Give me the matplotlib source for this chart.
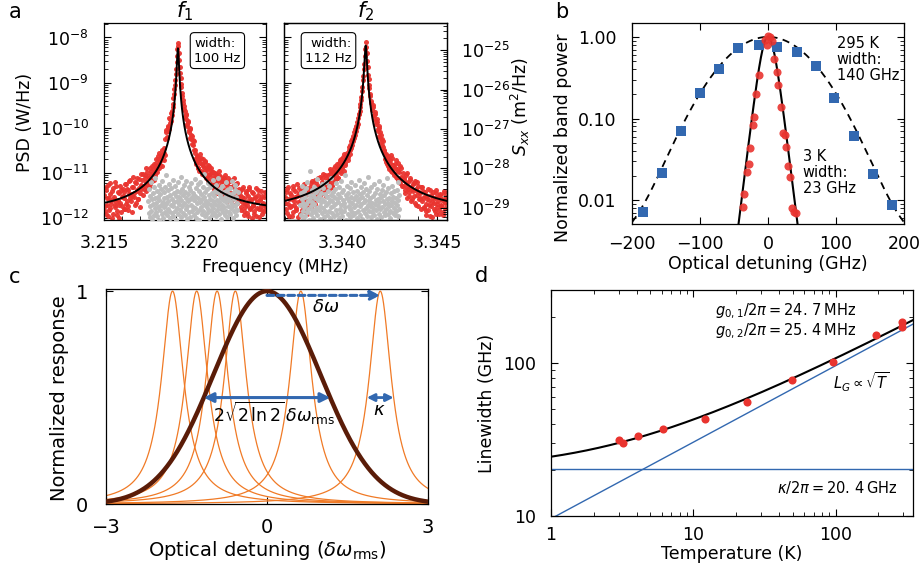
import numpy as np
import matplotlib
matplotlib.use("Agg")
import matplotlib.pyplot as plt
from matplotlib.ticker import (MultipleLocator, FormatStrFormatter, LogLocator,
                               NullFormatter, FixedLocator, FuncFormatter)

plt.rcParams["font.family"] = ["DejaVu Sans"]
plt.rcParams["mathtext.fontset"] = "dejavusans"
plt.rcParams["font.size"] = 12.5
plt.rcParams["axes.linewidth"] = 0.9

# ---------------------------------------------------------------- data
# (a) mechanical mode spectra: log10 PSD samples on uniform frequency grids
f1_center = 3.21910          # MHz
f1_width_hz = 100
f1_peak = 5.75e-9            # W/Hz
f1_floor = 1.33e-12
f1_red_start, f1_red_step = 3.21500, 0.00005
f1_red_log = [
    -11.48, -11.85, -11.31, -11.70, -11.95, -11.55, -11.22, -11.78, -11.63, -11.40,
    -11.90, -11.52, -11.71, -11.28, -11.83, -11.60, -11.45, -11.99, -11.66, -11.37,
    -11.74, -11.50,
    -11.42, -11.80, -11.25, -11.61, -11.38, -11.72, -11.18, -11.55, -11.47, -11.86,
    -11.30, -11.52, -11.21, -11.66, -11.40, -11.12, -11.58, -11.33, -11.75, -11.27,
    -11.15, -11.48, -11.28, -11.05, -11.40, -11.20, -10.98, -11.33, -11.12, -11.25,
    -10.95, -11.18,
    -10.92, -11.15, -10.85, -11.05, -10.78, -10.98, -10.70, -10.90, -10.82, -10.62,
    -10.85, -10.58, -10.72, -10.55,
    -10.25, -10.10, -10.20, -9.98, -10.02, -9.80, -9.85, -9.62,
    -9.55, -9.35, -9.15, -8.95, -8.70, -8.40,
    -8.13,
    -8.35, -8.65, -8.90, -9.10, -9.30, -9.45,
    -9.58, -9.75, -9.70, -9.92, -9.85, -10.05, -10.00, -10.22, -10.15, -10.35,
    -10.28, -10.48,
    -10.55, -10.75, -10.62, -10.88, -10.70, -10.95, -10.78, -10.66, -11.02, -10.85,
    -10.96, -10.74, -11.10, -10.90, -11.18, -10.82, -11.05, -10.93, -11.25, -10.98,
    -11.08, -11.32, -11.00, -11.22, -11.45, -11.12, -11.38, -11.05, -11.28, -11.50,
    -11.18, -11.40, -11.10, -11.55, -11.25, -11.35, -11.62, -11.20, -11.44, -11.30,
    -11.58, -11.15, -11.48, -11.70, -11.36, -11.52, -11.24, -11.66, -11.42, -11.60,
    -11.48, -11.82, -11.35, -11.66, -11.92, -11.55, -11.75, -11.40, -11.88, -11.62,
    -11.30, -11.78, -11.58, -12.00, -11.70, -11.45, -11.85, -11.52, -11.95, -11.64,
    -11.38, -11.80, -11.60, -11.72, -11.90, -11.50, -11.68, -11.84, -11.42, -11.76,
]
f1_red2_start = 3.215025
f1_red2_log = [
    -11.72, -11.38, -11.90, -11.55, -11.26, -11.81, -11.47, -11.68, -12.00, -11.33,
    -11.58, -11.76, -11.20, -11.64, -11.93, -11.42, -11.70, -11.29, -11.87, -11.53,
    -11.36, -11.79,
    -11.56, -11.24, -11.69, -11.35, -11.82, -11.46, -11.15, -11.62, -11.30, -11.51,
    -11.08, -11.44, -11.70, -11.22, -11.37, -11.58, -11.14, -11.45, -11.02, -11.36,
    -11.28, -11.02, -11.36, -11.12, -10.90, -11.24, -11.06, -11.30, -10.88, -11.10,
    -11.02, -10.85,
    -11.02, -10.80, -10.96, -10.70, -10.88, -10.62, -10.80, -10.55, -10.74, -10.66,
    -10.48, -10.70, -10.45, -10.60,
    -10.05, -10.22, -9.95, -10.08, -9.78, -9.90, -9.68, -9.72,
    -9.48, -9.25, -9.05, -8.80, -8.55, -8.25,
    -8.18, -8.50, -8.78, -9.02, -9.22, -9.38,
    -9.52, -9.62, -9.80, -9.72, -9.95, -9.88, -10.10, -10.02, -10.25, -10.18,
    -10.38, -10.30,
    -10.68, -10.50, -10.80, -10.64, -10.90, -10.72, -10.58, -10.95, -10.80, -10.68,
    -11.05, -10.86, -10.76, -11.00, -10.92, -11.12, -10.84, -11.02, -10.90, -11.15,
    -11.22, -10.98, -11.35, -11.10, -11.02, -11.28, -11.15, -10.95, -11.40, -11.20,
    -11.08, -11.32, -11.48, -11.15, -11.05, -11.42, -11.25, -11.12, -11.52, -11.30,
    -11.18, -11.45, -11.60, -11.28, -11.10, -11.38, -11.55, -11.22, -11.48, -11.35,
    -11.62, -11.40, -11.75, -11.52, -11.30, -11.85, -11.66, -11.45, -11.70, -11.95,
    -11.50, -11.36, -11.80, -11.60, -11.42, -11.72, -11.90, -11.55, -11.33, -11.78,
    -11.64, -11.48, -11.98, -11.58, -11.40, -11.82, -11.67, -11.52, -11.74, -11.45,
]
f1_bg_start, f1_bg_step = 3.21745, 0.000025
f1_bg_log = [
    -11.62, -11.88, -11.35, -11.97, -11.50, -11.73, -11.21, -11.84, -11.58, -12.02,
    -11.44, -11.69, -11.92, -11.30, -11.78, -11.55, -11.12, -11.86, -11.66, -11.40,
    -11.95, -11.53, -11.76, -11.27, -11.60, -12.04, -11.47, -11.81, -11.36, -11.70,
    -11.90, -11.18, -11.64, -11.99, -11.42, -11.75, -11.56, -11.32, -11.87, -11.68,
    -11.05, -11.52, -11.93, -11.38, -11.79, -11.61, -11.24, -11.83, -11.48, -12.00,
    -11.71, -11.33, -11.89, -11.57, -11.15, -11.74, -11.96, -11.45, -11.65, -11.28,
    -11.85, -11.51, -12.03, -11.39, -11.77, -11.62, -11.20, -11.91, -11.54, -11.69,
    -11.43, -11.82, -11.08, -11.59, -11.98, -11.35, -11.72, -11.49, -11.88, -11.26,
    -11.66, -11.94, -11.41, -11.80, -11.55, -11.17, -11.73, -12.01, -11.46, -11.63,
    -11.31, -11.86, -11.58, -11.97, -11.37, -11.70, -11.22, -11.84, -11.52, -11.76,
    -11.44, -11.92, -11.60, -11.13, -11.78, -11.50, -11.99, -11.34, -11.67, -11.87,
    -11.25, -11.56, -11.81, -11.40, -12.04, -11.64, -11.19, -11.75, -11.47, -11.90,
    -11.58, -11.30, -11.83, -11.69, -11.02, -11.53, -11.95, -11.42, -11.74, -11.61,
    -11.89, -11.36, -11.66, -11.23, -11.79, -11.48, -12.00, -11.57, -11.32, -11.85,
    -11.71, -11.45, -11.93, -11.62, -11.16, -11.77, -11.51, -11.88, -11.39, -11.68,
    -11.96, -11.27, -11.59, -11.82, -11.43, -11.73, -11.10, -11.64, -11.91, -11.49,
    -11.35, -11.80, -11.55, -12.02, -11.70, -11.29, -11.86, -11.60, -11.41, -11.76,
    -11.94, -11.52, -11.21, -11.83, -11.65, -11.38, -11.97, -11.57, -11.72, -11.46,
    -11.87, -11.33, -11.63, -11.90, -11.50, -11.78, -11.18, -11.69, -11.44, -11.99,
    -11.58, -11.84, -11.37, -11.74, -11.26, -11.92, -11.54, -11.66, -11.81, -11.42,
]

f2_center = 3.34125
f2_width_hz = 112
f2_peak = 6.6e-9
f2_floor = 1.28e-12
f2_red_start, f2_red_step = 3.33700, 0.00005
f2_red_log = [
    -11.52, -11.80, -11.35, -11.68, -11.95, -11.45, -11.72, -11.58, -11.28, -11.86,
    -11.62, -11.40, -11.77, -11.50, -11.98, -11.33, -11.66, -11.48, -11.82, -11.56,
    -11.25, -11.70, -11.44, -11.90, -11.38,
    -11.60, -11.30, -11.75, -11.42, -11.18, -11.55, -11.36, -11.68, -11.22, -11.48,
    -11.12, -11.40, -11.58, -11.26, -11.10, -11.45, -11.32, -11.05, -11.50, -11.20,
    -11.15, -11.35, -11.02, -11.22, -10.95, -11.28, -11.08, -10.88, -11.18, -10.98,
    -10.80, -11.10, -10.90, -10.72, -11.00, -10.85, -10.65, -10.95, -10.78, -10.60,
    -10.62, -10.72, -10.50, -10.58, -10.38, -10.45, -10.25, -10.30, -10.10, -10.15,
    -9.95, -9.98, -9.78, -9.70, -9.55,
    -9.38, -9.18, -8.95, -8.70, -8.40,
    -8.10,
    -8.35, -8.65, -8.92, -9.12, -9.30,
    -9.45, -9.60, -9.55, -9.78, -9.70, -9.92, -9.88, -10.08, -10.00, -10.22,
    -10.15, -10.38, -10.30, -10.48,
    -10.58, -10.75, -10.65, -10.85, -10.70, -10.92, -10.78, -10.60, -10.98, -10.82,
    -11.05, -10.88, -10.72, -11.12, -10.95, -11.20, -10.85, -11.08, -11.28, -11.00,
    -11.15, -11.38, -11.05, -11.30, -11.55, -11.20, -11.42, -11.12, -11.62, -11.35,
    -11.25, -11.50, -11.18, -11.70, -11.40, -11.28, -11.58, -11.45, -11.80, -11.32,
    -11.55, -11.78, -11.42, -11.68, -11.92, -11.50, -11.82, -11.60, -11.38, -11.72,
    -11.98, -11.55, -11.66, -11.85, -11.45, -11.75, -11.62, -11.90, -11.48, -11.70,
    -11.58, -11.86, -11.40, -11.65, -11.78, -11.52,
]
f2_red2_start = 3.337025
f2_red2_log = [
    -11.66, -11.42, -11.88, -11.30, -11.58, -11.76, -11.48, -11.95, -11.36, -11.70,
    -11.54, -11.82, -11.25, -11.64, -11.45, -11.90, -11.60, -11.38, -11.74, -11.50,
    -11.85, -11.32, -11.62, -11.46, -11.78,
    -11.44, -11.68, -11.22, -11.52, -11.36, -11.60, -11.15, -11.42, -11.28, -11.55,
    -11.32, -11.08, -11.46, -11.20, -11.38, -11.02, -11.25, -11.40, -11.12, -11.30,
    -11.05, -11.25, -10.92, -11.12, -11.30, -10.98, -11.15, -10.85, -11.05, -10.90,
    -11.10, -10.78, -10.95, -10.82, -10.68, -10.90, -10.75, -10.58, -10.82, -10.66,
    -10.55, -10.65, -10.42, -10.50, -10.30, -10.38, -10.18, -10.22, -10.02, -10.08,
    -9.88, -9.92, -9.70, -9.62, -9.48,
    -9.32, -9.10, -8.85, -8.58, -8.25,
    -8.22, -8.52, -8.82, -9.05, -9.25,
    -9.40, -9.55, -9.50, -9.72, -9.65, -9.85, -9.80, -10.02, -9.95, -10.18,
    -10.10, -10.32, -10.25, -10.42,
    -10.52, -10.68, -10.58, -10.80, -10.62, -10.86, -10.72, -10.95, -10.66, -10.90,
    -11.00, -10.80, -11.08, -10.92, -10.78, -11.15, -10.98, -11.22, -10.90, -11.10,
    -11.28, -11.10, -11.45, -11.22, -11.00, -11.35, -11.50, -11.15, -11.30, -11.58,
    -11.40, -11.22, -11.66, -11.35, -11.48, -11.20, -11.72, -11.42, -11.55, -11.30,
    -11.62, -11.40, -11.75, -11.50, -11.85, -11.58, -11.35, -11.70, -11.96, -11.48,
    -11.64, -11.42, -11.80, -11.55, -11.90, -11.38, -11.68, -11.52, -11.82, -11.46,
    -11.74, -11.60, -11.92, -11.44, -11.66, -11.56,
]
f2_bg_start, f2_bg_step = 3.33780, 0.000025
f2_bg_log = [
    -11.70, -11.45, -11.92, -11.58, -11.28, -11.83, -11.66, -12.01, -11.40, -11.75,
    -11.52, -11.96, -11.34, -11.68, -11.87, -11.21, -11.61, -11.79, -11.47, -12.04,
    -11.56, -10.95, -11.73, -11.90, -11.38, -11.64, -11.82, -11.49, -11.99, -11.30,
    -11.69, -11.55, -11.86, -11.42, -11.77, -11.14, -11.94, -11.60, -11.36, -11.81,
    -11.50, -11.72, -12.02, -11.44, -11.65, -11.25, -11.89, -11.57, -11.78, -11.33,
    -11.97, -11.62, -11.46, -11.84, -11.19, -11.71, -11.53, -11.93, -11.39, -11.67,
    -11.85, -11.29, -11.59, -12.00, -11.48, -11.76, -11.11, -11.63, -11.88, -11.41,
    -11.74, -11.54, -11.95, -11.35, -11.68, -11.82, -11.23, -11.58, -11.91, -11.47,
    -11.64, -11.99, -11.31, -11.79, -11.52, -11.87, -11.17, -11.70, -11.43, -11.96,
    -11.60, -11.37, -11.84, -11.66, -11.05, -11.75, -11.49, -12.03, -11.56, -11.28,
    -11.90, -11.45, -11.73, -11.61, -11.97, -11.34, -11.80, -11.53, -11.20, -11.86,
    -11.67, -11.41, -11.94, -11.58, -11.76, -11.27, -11.88, -11.50, -11.71, -11.99,
    -11.39, -11.63, -11.83, -11.15, -11.57, -11.92, -11.46, -11.74, -11.32, -11.69,
    -12.01, -11.54, -11.81, -11.43, -11.65, -11.22, -11.89, -11.60, -11.36, -11.78,
    -11.48, -11.95, -11.70, -11.08, -11.62, -11.85, -11.40, -11.73, -11.55, -11.98,
    -11.30, -11.66, -11.87, -11.51, -11.77, -11.24, -11.93, -11.44, -11.68, -11.59,
    -11.82, -11.35, -12.02, -11.57, -11.72, -11.18, -11.64, -11.90, -11.47, -11.80,
    -11.53, -11.97, -11.38, -11.75, -11.61, -11.26, -11.86, -11.49, -11.69, -11.94,
    -11.42, -11.79, -11.58, -11.12, -11.67, -11.91, -11.33, -11.74, -11.56, -11.84,
    -11.99, -11.45, -11.71, -11.29, -11.63, -11.88, -11.52, -11.77, -11.40, -11.66,
    -11.92, -11.55, -11.83, -11.37, -11.70, -11.21, -11.60, -11.96, -11.48, -11.79,
]

# (b) normalized band power vs optical detuning
hot_detuning = [-184, -155.4, -128, -100, -72, -43.6, -13.7, 13.7, 42.2, 70.1,
                97, 126.5, 154, 183]
hot_power = [0.0071, 0.0216, 0.070, 0.204, 0.40, 0.74, 0.79, 0.76, 0.66, 0.445,
             0.18, 0.0616, 0.021, 0.0086]
cold_detuning = [-4.4, -2.0, -0.5, 2.9, 5.4, 9.5, 12.8, 15.2, 19.1, 21.6, 25.0,
                 26.5, 29.9, 32.4, 34.8, 38.2, 41.2, -13.0, -17.8, -20.1, -22.5,
                 -26.5, -28.4, -30.4, -35.3, -37.2]
cold_power = [0.92, 0.80, 1.03, 0.99, 0.88, 0.53, 0.375, 0.26, 0.137, 0.066,
              0.063, 0.045, 0.026, 0.019, 0.0079, 0.0072, 0.0069, 0.34, 0.20,
              0.103, 0.083, 0.043, 0.028, 0.022, 0.012, 0.0083]
hot_label_width = 140     # GHz
cold_label_width = 23     # GHz
hot_fit_fwhm = 131.0      # GHz, Gaussian-core fit
hot_fit_lorentz_frac = 0.04

# (c) inhomogeneous broadening sketch
resonance_centers = [-1.76, -1.31, -0.93, -0.59, 0.63, 2.11]
kappa_c = 0.5
delta_arrow_end = 2.11

# (d) linewidth vs temperature
temperature = [3.0, 3.2, 4.1, 6.1, 12.0, 24.0, 49.6, 95.2, 191, 295, 295]
linewidth = [31.3, 29.8, 33.2, 37.3, 42.8, 55.7, 78, 102, 151.6, 184, 173]
kappa_ghz = 20.4
gauss_coeff = 9.6         # GHz / sqrt(K)

# ---------------------------------------------------------------- figure
W, H = 923, 572
fig = plt.figure(figsize=(W / 100, H / 100), dpi=100)


def add_box(left, top, width, height):
    return fig.add_axes([left / W, 1 - (top + height) / H, width / W, height / H])


RED = "#e9342f"
GREY = "#bdbdbd"
BLUE = "#3268b0"
ORANGE = "#f07a26"
BROWN = "#5a1c08"
YPAD = 11


def lorentz(f, center, width_hz, peak, floor):
    g = width_hz * 1e-6 / 2
    return peak * g ** 2 / ((f - center) ** 2 + g ** 2) + floor


# ---------------- panel a
ax1 = add_box(104, 23, 162, 197)
ax2 = add_box(284, 23, 163, 197)
ylo, yhi = 10 ** -12.04, 10 ** -7.68
panels = [
    (ax1, f1_center, f1_width_hz, f1_peak, f1_floor,
     [(f1_red_start, f1_red_log), (f1_red2_start, f1_red2_log)], f1_red_step,
     f1_bg_start, f1_bg_step, f1_bg_log, (3.21499, 3.2240),
     r"$f_1$", "width:\n100 Hz", 0.70, "left"),
    (ax2, f2_center, f2_width_hz, f2_peak, f2_floor,
     [(f2_red_start, f2_red_log), (f2_red2_start, f2_red2_log)], f2_red_step,
     f2_bg_start, f2_bg_step, f2_bg_log, (3.33695, 3.34553),
     r"$f_2$", "width:\n112 Hz", 0.273, "right"),
]
for (ax, fc, fw, pk, fl, red_sets, rstep, bs, bstep, blog, xl,
     title, boxtxt, bx, align) in panels:
    for rs, rlog in red_sets:
        fr = rs + rstep * np.arange(len(rlog))
        ax.scatter(fr, 10 ** np.array(rlog), s=13, color=RED, lw=0, alpha=0.95,
                   zorder=2)
    fb = bs + bstep * np.arange(len(blog))
    ax.scatter(fb, 10 ** np.array(blog), s=13, color=GREY, lw=0, zorder=3)
    ff = np.linspace(xl[0], xl[1], 2000)
    ax.plot(ff, lorentz(ff, fc, fw, pk, fl), color="black", lw=1.4, zorder=4)
    ax.set_yscale("log")
    ax.set_ylim(ylo, yhi)
    ax.set_xlim(*xl)
    ax.xaxis.set_major_locator(MultipleLocator(0.005))
    ax.xaxis.set_minor_locator(MultipleLocator(0.001))
    ax.xaxis.set_major_formatter(FormatStrFormatter("%.3f"))
    ax.yaxis.set_major_locator(LogLocator(base=10, numticks=10))
    ax.yaxis.set_minor_locator(LogLocator(base=10, subs=np.arange(2, 10), numticks=10))
    ax.yaxis.set_minor_formatter(NullFormatter())
    ax.tick_params(which="both", direction="in", top=False)
    ax.tick_params(which="major", length=5, labelsize=12.5)
    ax.tick_params(axis="x", which="major", pad=10)
    ax.tick_params(axis="y", which="major", pad=YPAD)
    ax.tick_params(which="minor", length=3)
    ax.set_title(title, fontsize=15, pad=3)
    ax.text(bx, 0.86, boxtxt, transform=ax.transAxes, ha="center", va="center",
            multialignment=align, fontsize=9.5, zorder=6,
            bbox=dict(boxstyle="round,pad=0.3", fc="white", ec="black", lw=0.8))

ax1.tick_params(which="both", right=True)
ax2.tick_params(which="both", left=True, right=False, labelleft=False)
ax2t = ax2.twinx()
ax2t.set_yscale("log")
ax2t.set_ylim(10 ** -29.31, 10 ** -24.31)
ax2t.yaxis.set_major_locator(LogLocator(base=10, numticks=10))
ax2t.yaxis.set_minor_locator(LogLocator(base=10, subs=np.arange(2, 10), numticks=10))
ax2t.yaxis.set_minor_formatter(NullFormatter())
ax2t.tick_params(which="both", direction="in")
ax2t.tick_params(which="major", length=5, labelsize=12.5, pad=10)
ax2t.tick_params(which="minor", length=3)

fig.text(25 / W, 1 - 122 / H, "PSD (W/Hz)", rotation=90, ha="center", va="center",
         fontsize=12.5)
fig.text(520 / W, 1 - 107 / H, r"$S_{xx}$ (m$^2$/Hz)", rotation=90, ha="center",
         va="center", fontsize=12.5)
fig.text(275 / W, 1 - 267 / H, "Frequency (MHz)", ha="center", va="center",
         fontsize=12.5)

# ---------------- panel b
axb = add_box(632, 23, 272, 201)
xs = np.linspace(-200, 200, 1600)
sig = hot_fit_fwhm / (2 * np.sqrt(2 * np.log(2)))
hot_fit = ((1 - hot_fit_lorentz_frac) * np.exp(-xs ** 2 / (2 * sig ** 2))
           + hot_fit_lorentz_frac / (1 + (2 * xs / hot_fit_fwhm) ** 2))
a_cold = (cold_label_width / 2) / np.arccosh(np.sqrt(2))
cold_fit = 1 / np.cosh(xs / a_cold) ** 2
axb.plot(xs, hot_fit, color="black", lw=1.3, ls=(0, (4, 3)), zorder=2)
axb.plot(xs, cold_fit, color="black", lw=1.5, zorder=2)
axb.scatter(hot_detuning, hot_power, marker="s", s=50, color=BLUE, lw=0, zorder=3)
axb.scatter(cold_detuning, cold_power, marker="o", s=34, color=RED, lw=0,
            alpha=0.9, zorder=4)
axb.set_yscale("log")
axb.set_xlim(-200, 200)
axb.set_ylim(0.0051, 1.48)
axb.yaxis.set_major_locator(FixedLocator([0.01, 0.1, 1.0]))
axb.yaxis.set_major_formatter(FormatStrFormatter("%.2f"))
axb.yaxis.set_minor_locator(LogLocator(base=10, subs=np.arange(2, 10), numticks=10))
axb.yaxis.set_minor_formatter(NullFormatter())
axb.xaxis.set_major_locator(MultipleLocator(100))
axb.tick_params(which="both", direction="in", top=True, right=True)
axb.tick_params(which="major", length=5, labelsize=12.5)
axb.tick_params(axis="x", which="major", pad=8)
axb.tick_params(axis="y", which="major", pad=YPAD)
axb.tick_params(which="minor", length=3)
axb.set_xlabel("Optical detuning (GHz)", fontsize=12.5)
axb.set_ylabel("Normalized band power", fontsize=12.5)
axb.xaxis.set_label_coords(0.5, -0.155)
axb.yaxis.set_label_coords(-0.222, 0.43)
axb.text(0.753, 0.935, f"295 K\nwidth:\n{hot_label_width} GHz", transform=axb.transAxes,
         ha="left", va="top", fontsize=10.5, linespacing=1.1)
axb.text(0.627, 0.375, f"3 K\nwidth:\n{cold_label_width} GHz", transform=axb.transAxes,
         ha="left", va="top", fontsize=10.5, linespacing=1.1)

# ---------------- panel c
axc = add_box(106, 289, 322, 215)
xc = np.linspace(-3, 3, 1500)
for c0 in resonance_centers:
    axc.plot(xc, 1 / (1 + ((xc - c0) / (kappa_c / 2)) ** 2), color=ORANGE, lw=0.9,
             zorder=2)
axc.plot(xc, np.exp(-xc ** 2 / 2), color=BROWN, lw=3.2, zorder=3)
fwhm_c = 2 * np.sqrt(2 * np.log(2))
axc.annotate("", xy=(delta_arrow_end, 0.98), xytext=(0, 0.98),
             arrowprops=dict(arrowstyle="-|>", color=BLUE, lw=2.2, ls=(0, (2.2, 1.2)),
                             mutation_scale=14, shrinkA=0, shrinkB=0), zorder=5)
axc.annotate("", xy=(fwhm_c / 2, 0.5), xytext=(-fwhm_c / 2, 0.5),
             arrowprops=dict(arrowstyle="<|-|>", color=BLUE, lw=2.2,
                             mutation_scale=14, shrinkA=0, shrinkB=0), zorder=5)
axc.annotate("", xy=(delta_arrow_end + kappa_c / 2, 0.5),
             xytext=(delta_arrow_end - kappa_c / 2, 0.5),
             arrowprops=dict(arrowstyle="<|-|>", color=BLUE, lw=2.0,
                             mutation_scale=11, shrinkA=0, shrinkB=0), zorder=5)
axc.text(1.1, 0.925, r"$\delta\omega$", ha="center", va="center", fontsize=13)
axc.text(0.13, 0.425, r"$2\sqrt{2\,\ln 2}\,\delta\omega_{\mathrm{rms}}$", ha="center",
         va="center", fontsize=12.5)
axc.text(2.1, 0.44, r"$\kappa$", ha="center", va="center", fontsize=13)
axc.set_xlim(-3, 3)
axc.set_ylim(0, 1.01)
axc.set_xticks([-3, 0, 3])
axc.set_yticks([0, 1])
axc.tick_params(direction="in", top=True, right=True, length=5, labelsize=14)
axc.tick_params(axis="x", pad=10)
axc.tick_params(axis="y", pad=13)
axc.set_xlabel(r"Optical detuning ($\delta\omega_{\mathrm{rms}}$)", fontsize=14)
axc.set_ylabel("Normalized response", fontsize=14)
axc.xaxis.set_label_coords(0.5, -0.165)
axc.yaxis.set_label_coords(-0.116, 0.49)

# ---------------- panel d
axd = add_box(551, 290, 362, 226)
T = np.logspace(0, np.log10(350), 400)
lg = gauss_coeff * np.sqrt(T)
voigt = 0.5346 * kappa_ghz + np.sqrt(0.2166 * kappa_ghz ** 2 + lg ** 2)
axd.plot(T, voigt, color="black", lw=1.5, zorder=3)
axd.plot(T, lg, color=BLUE, lw=1.0, zorder=2)
axd.axhline(kappa_ghz, color=BLUE, lw=1.0, zorder=2)
axd.scatter(temperature, linewidth, s=34, color=RED, lw=0, zorder=4)
axd.set_xscale("log")
axd.set_yscale("log")
axd.set_xlim(1, 350)
axd.set_ylim(10, 300)
plain = FuncFormatter(lambda v, p: f"{v:g}")
axd.xaxis.set_major_formatter(plain)
axd.yaxis.set_major_formatter(plain)
axd.xaxis.set_minor_formatter(NullFormatter())
axd.yaxis.set_minor_formatter(NullFormatter())
axd.tick_params(which="both", direction="in", top=True, right=True)
axd.tick_params(which="major", length=5, labelsize=12.5)
axd.tick_params(axis="x", which="major", pad=7)
axd.tick_params(axis="y", which="major", pad=YPAD)
axd.tick_params(which="minor", length=3)
axd.set_xlabel("Temperature (K)", fontsize=12.5)
axd.set_ylabel("Linewidth (GHz)", fontsize=12.5)
axd.xaxis.set_label_coords(0.5, -0.13)
axd.yaxis.set_label_coords(-0.152, 0.5)
coupling_text = (r"$g_{0,1}/2\pi = 24.\,7\,\mathrm{MHz}$" + "\n"
                 + r"$g_{0,2}/2\pi = 25.\,4\,\mathrm{MHz}$")
axd.text(0.842, 0.86, coupling_text, transform=axd.transAxes,
         ha="right", va="center", multialignment="left", fontsize=10.5,
         linespacing=1.05)
axd.text(0.856, 0.594, r"$L_G \propto \sqrt{T}$", transform=axd.transAxes,
         ha="center", va="center", fontsize=10.5)
axd.text(0.79, 0.124, r"$\kappa/2\pi = 20.\,4\,\mathrm{GHz}$", transform=axd.transAxes,
         ha="center", va="center", fontsize=10.5)

# ---------------- panel letters
for lab, x, y in [("a", 15, 12), ("b", 562, 12), ("c", 15, 277), ("d", 482, 276)]:
    fig.text(x / W, 1 - y / H, lab, ha="center", va="center", fontsize=15)

fig.savefig("out.png", dpi=100)
